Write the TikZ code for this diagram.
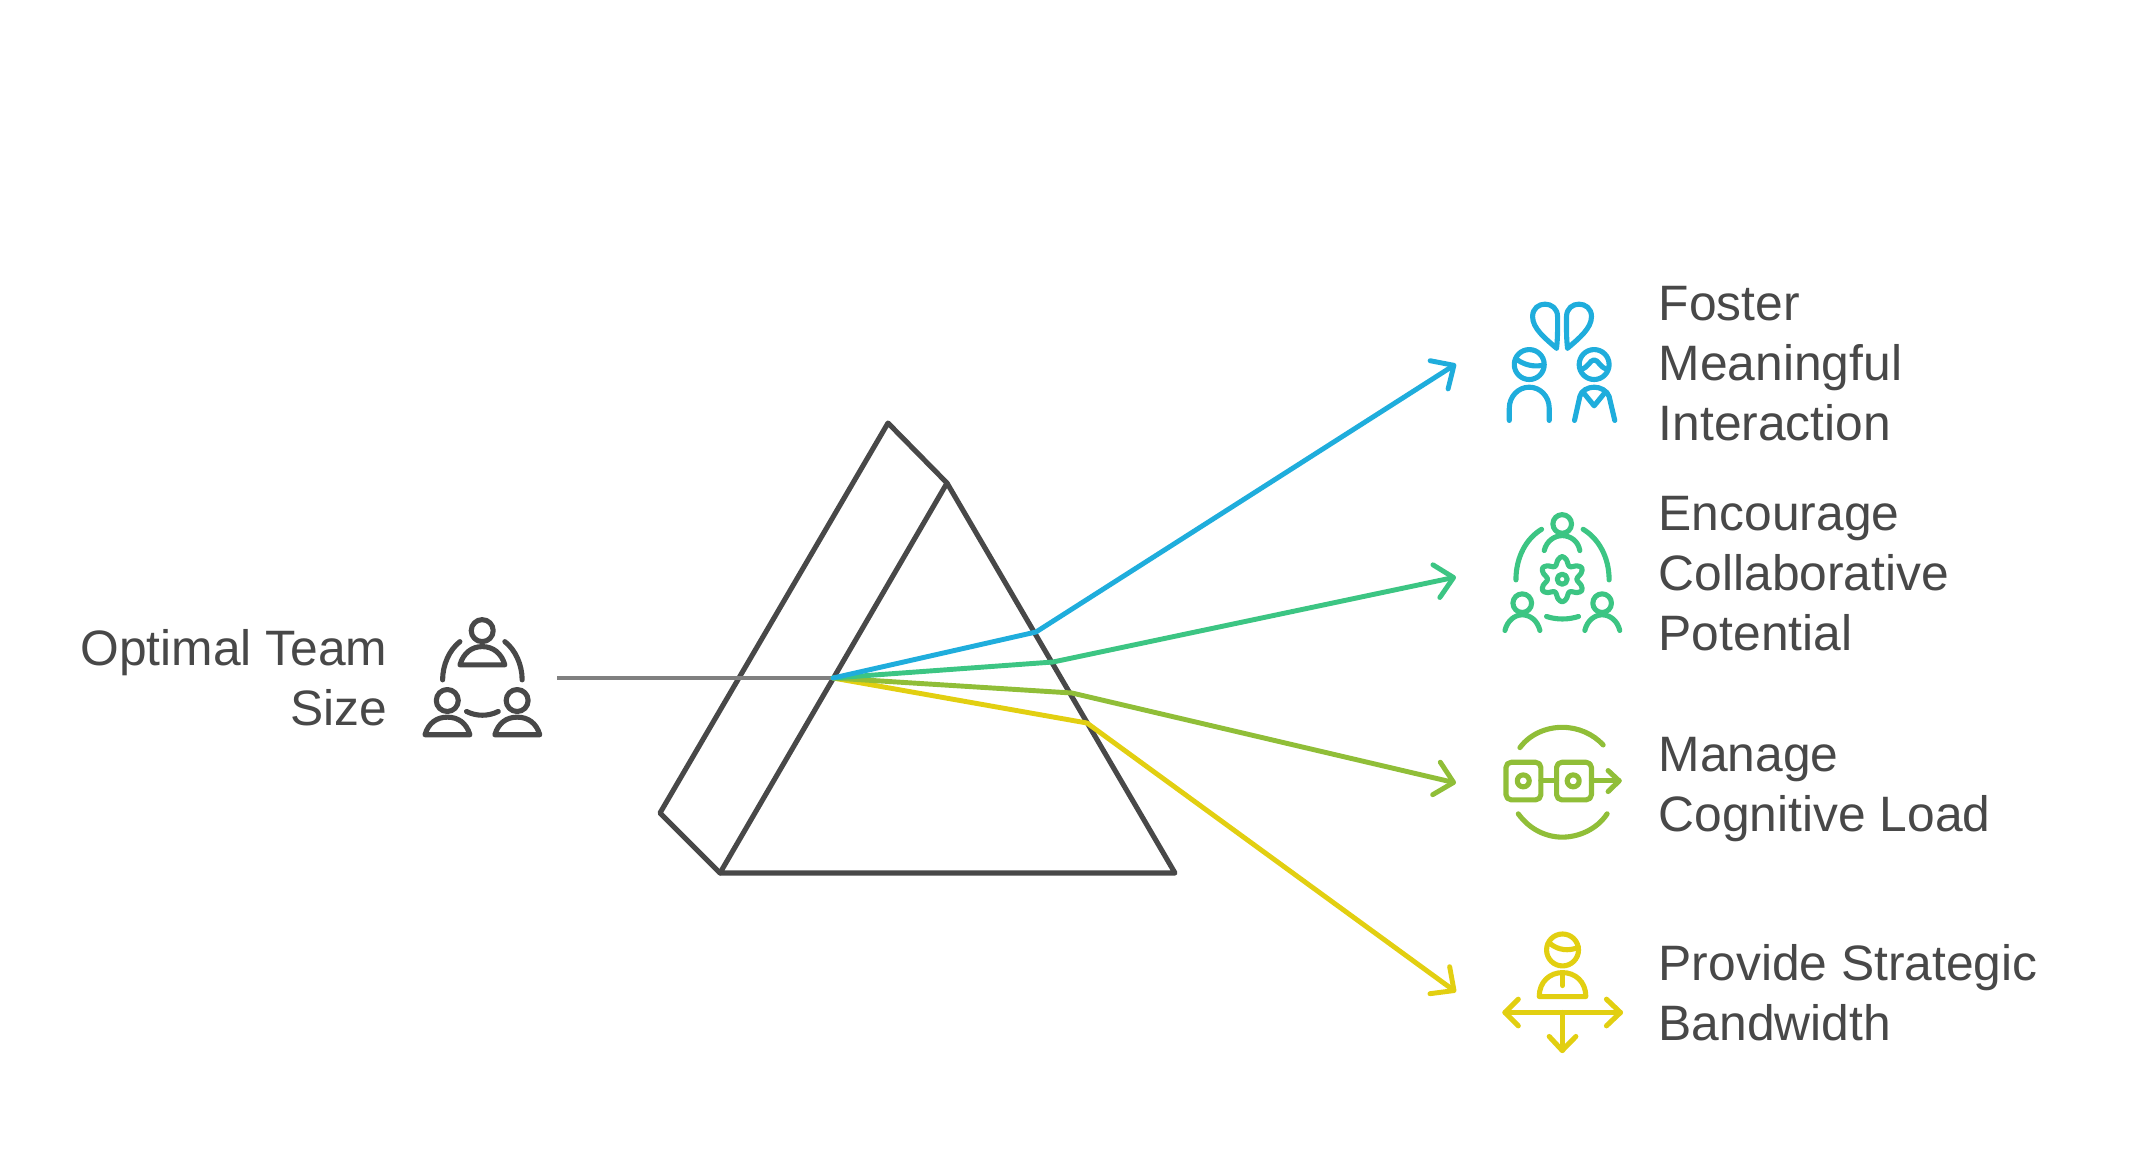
\documentclass[tikz,border=0pt]{standalone}
\usepackage{fontspec}
\setmainfont{Liberation Sans}
\usetikzlibrary{arrows.meta}
\definecolor{inkdark}{HTML}{484848}
\definecolor{raygray}{HTML}{808080}
\definecolor{rayblue}{HTML}{1FADDC}
\definecolor{raygreen}{HTML}{3CC583}
\definecolor{raylime}{HTML}{90BE38}
\definecolor{rayyellow}{HTML}{E2CF11}
\begin{document}
\begin{tikzpicture}[x=0.01cm, y=-0.01cm, >={Straight Barb[length=5pt, width=9.5pt, round]},
  line cap=round, line join=round,
  label/.style={inner sep=0pt, text=inkdark, align=#1, font=\fontsize{14.15}{17.07}\selectfont},
  ray/.style={line width=1.4pt, ->},
  icon/.style 2 args={shift={(#1,#2)}, x=0.00333cm, y=-0.00333cm, line width=1.45pt}]

\useasboundingbox (0,0) rectangle (2135,1175);

% Prism
\coordinate (top) at (888,423);
\coordinate (ridge) at (947,483);
\coordinate (right) at (1175,873);
\coordinate (base) at (720,873);
\coordinate (back) at (660,813);
\draw[line width=1.45pt, inkdark] (ridge) -- (right) -- (base) -- cycle;
\draw[line width=1.45pt, inkdark] (ridge) -- (top) -- (back) -- (base);

% Rays
\coordinate (start) at (557,678);
\coordinate (hub) at (833,678);
\coordinate (bluebend) at (1036,632);
\coordinate (greenbend) at (1053,662);
\coordinate (limebend) at (1072,693);
\coordinate (yellowbend) at (1087,723);
\coordinate (bluetip) at (1456,364);
\coordinate (greentip) at (1456,577);
\coordinate (limetip) at (1456,783);
\coordinate (yellowtip) at (1456,992);
\draw[line width=1.4pt, raygray, line cap=butt] (start) -- (hub);
\draw[ray, rayyellow] (hub) -- (yellowbend) -- (yellowtip);
\draw[ray, raylime] (hub) -- (limebend) -- (limetip);
\draw[ray, raygreen] (hub) -- (greenbend) -- (greentip);
\draw[ray, rayblue] (hub) -- (bluebend) -- (bluetip);

% Labels
\node[label=right, anchor=east] (teamsize) at (388,678) {Optimal Team\\Size};
\node[label=left, anchor=west] (foster) at (1658,364) {Foster\\Meaningful\\Interaction};
\node[label=left, anchor=west] (encourage) at (1658,574) {Encourage\\Collaborative\\Potential};
\node[label=left, anchor=west] (manage) at (1658,790) {Manage\\Cognitive Load};
\node[label=left, anchor=west] (provide) at (1658,993) {Provide Strategic\\Bandwidth};

% Team icon
\begin{scope}[icon={410}{600}, inkdark]
\draw (217,92) circle[radius=33];
\draw (150,195) .. controls (160,160) and (185,140) .. (217,140) .. controls (250,140) and (275,160) .. (285,195) -- cycle;
\draw (98,240) .. controls (98,195) and (118,150) .. (150,125);
\draw (337,240) .. controls (337,195) and (317,150) .. (285,125);
\draw (170,335) .. controls (200,350) and (235,350) .. (265,335);
\draw (112,302) circle[radius=33];
\draw (45,405) .. controls (55,370) and (80,352) .. (112,352) .. controls (145,352) and (170,370) .. (180,405) -- cycle;
\draw (322,302) circle[radius=33];
\draw (255,405) .. controls (265,370) and (290,352) .. (322,352) .. controls (355,352) and (380,370) .. (390,405) -- cycle;
\end{scope}

% Interaction icon
\begin{scope}[icon={1480}{280}, rayblue]
\draw (230,205) .. controls (234,170) and (233,140) .. (233,110) .. controls (233,60) and (158,60) .. (158,110) .. controls (158,145) and (195,175) .. (230,205);
\draw (263,205) .. controls (259,170) and (260,140) .. (260,110) .. controls (260,60) and (335,60) .. (335,110) .. controls (335,145) and (298,175) .. (263,205);
\draw (148,254) circle[radius=45];
\draw (112,240) .. controls (135,255) and (160,262) .. (190,256);
\draw (88,422) -- (88,385) .. controls (88,350) and (115,322) .. (148,322) .. controls (181,322) and (208,350) .. (208,385) -- (208,422);
\draw (343,254) circle[radius=45];
\draw (303,268) .. controls (325,265) and (330,240) .. (343,240) .. controls (356,240) and (361,265) .. (383,268);
\draw (284,422) -- (300,350) .. controls (304,332) and (325,322) .. (343,322) .. controls (361,322) and (382,332) .. (388,350) -- (405,422);
\draw (312,340) -- (343,378) -- (374,340);
\end{scope}

% Collaboration icon
\begin{scope}[icon={1480}{500}, raygreen]
\draw (247,72) circle[radius=28];
\draw (193,152) .. controls (200,122) and (225,107) .. (247,107) .. controls (270,107) and (295,122) .. (300,152);
\draw (108,240) .. controls (108,170) and (140,115) .. (185,88);
\draw (388,240) .. controls (388,170) and (355,115) .. (310,88);
\draw (200,350) .. controls (230,360) and (265,360) .. (296,350);
\draw (127,310) circle[radius=28];
\draw (75,392) .. controls (82,362) and (105,345) .. (127,345) .. controls (150,345) and (173,362) .. (180,392);
\draw (367,310) circle[radius=28];
\draw (315,392) .. controls (322,362) and (345,345) .. (367,345) .. controls (390,345) and (413,362) .. (420,392);
\draw (247,238) circle[radius=15];
\begin{scope}[shift={(247,238)}]
\draw plot[smooth cycle, tension=0.6] coordinates {(102:60) (90:68) (78:60) (60:44) (42:60) (30:68) (18:60) (0:44) (-18:60) (-30:68) (-42:60) (-60:44) (-78:60) (-90:68) (-102:60) (-120:44) (-138:60) (-150:68) (-162:60) (180:44) (162:60) (150:68) (138:60) (120:44)};
\end{scope}
\end{scope}

% Load icon
\begin{scope}[icon={1480}{710}, raylime]
\draw (120,113) .. controls (150,72) and (200,52) .. (247,52) .. controls (295,52) and (340,72) .. (370,105);
\draw (115,312) .. controls (150,360) and (200,382) .. (247,382) .. controls (295,382) and (350,360) .. (382,312);
\draw[rounded corners=1.5pt] (78,157) rectangle (183,270);
\draw[rounded corners=1.5pt] (230,157) rectangle (335,270);
\draw (130,213) circle[radius=18];
\draw (280,213) circle[radius=18];
\draw (183,213) -- (230,213);
\draw (335,213) -- (418,213);
\draw (385,182) -- (418,213) -- (385,245);
\end{scope}

% Bandwidth icon
\begin{scope}[icon={1480}{920}, rayyellow]
\draw (248,90) circle[radius=48];
\draw (212,72) .. controls (235,90) and (265,95) .. (296,82);
\draw (178,230) .. controls (178,185) and (210,158) .. (248,158) .. controls (286,158) and (318,185) .. (318,230) -- cycle;
\draw (248,160) -- (248,197);
\draw (75,278) -- (422,278);
\draw (115,238) -- (75,278) -- (115,318);
\draw (380,238) -- (422,278) -- (380,318);
\draw (247,278) -- (247,392);
\draw (208,350) -- (247,392) -- (288,350);
\end{scope}

\end{tikzpicture}
\end{document}
